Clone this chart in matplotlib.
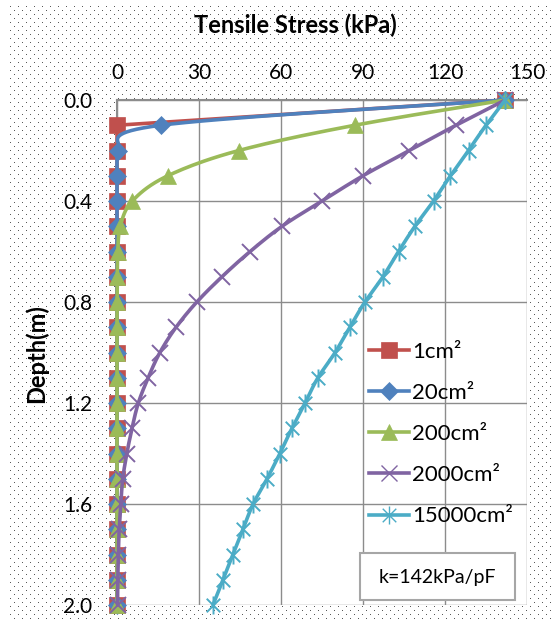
import matplotlib
matplotlib.use("Agg")
import matplotlib.pyplot as plt
from matplotlib.patches import Rectangle
from matplotlib.path import Path
import numpy as np

plt.rcParams['font.family'] = ['Lato', 'DejaVu Sans']

depth = [round(0.1 * i, 1) for i in range(21)]
s_1 = [142, 0, 0, 0, 0, 0, 0, 0, 0, 0, 0, 0, 0, 0, 0, 0, 0, 0, 0, 0, 0]
s_20 = [142, 16, 0.3, 0, 0, 0, 0, 0, 0, 0, 0, 0, 0, 0, 0, 0, 0, 0, 0, 0, 0]
s_200 = [142, 87, 44.6, 18.6, 5.6, 1.2, 0.3, 0.1, 0, 0, 0, 0, 0, 0, 0, 0, 0, 0, 0, 0, 0]
s_2000 = [142, 124, 107, 90, 75, 60.4, 48.7, 38.4, 29.2, 21.6, 15.7, 11.4, 7.8,
          5.5, 3.6, 2.1, 1.4, 0.8, 0.5, 0.3, 0.2]
s_15000 = [142, 135, 128.6, 122, 115.8, 109, 103, 97.3, 90.7, 85.2, 79.8, 73.5,
           68.8, 64, 59.6, 54.9, 49.8, 46.1, 42.4, 38.8, 35.1]
labels = ['1cm²', '20cm²', '200cm²', '2000cm²', '15000cm²']
x_ticks = [0, 30, 60, 90, 120, 150]
y_ticks = [0.0, 0.4, 0.8, 1.2, 1.6, 2.0]

colors = ['#C0504D', '#4F81BD', '#9BBB59', '#8064A2', '#4BACC6']

star = Path([(0, -1), (0, 1), (-0.75, -0.75), (0.75, 0.75), (-0.75, 0.75), (0.75, -0.75)],
            [Path.MOVETO, Path.LINETO, Path.MOVETO, Path.LINETO, Path.MOVETO, Path.LINETO])
markers = ['s', 'D', '^', 'x', star]
msizes = [11, 9, 11, 12, 13]
smoothed = [False, True, True, True, True]


def smooth(xs, ys, n=20):
    """Catmull-Rom Bezier smoothing (like Excel's smoothed line)."""
    P = np.column_stack([xs, ys]).astype(float)
    out = [P[0]]
    t = np.linspace(0, 1, n)[1:, None]
    for i in range(len(P) - 1):
        p0 = P[i - 1] if i > 0 else P[i]
        p1, p2 = P[i], P[i + 1]
        p3 = P[i + 2] if i + 2 < len(P) else P[i + 1]
        b1 = p1 + (p2 - p0) / 6
        b2 = p2 - (p3 - p1) / 6
        seg = ((1 - t) ** 3) * p1 + 3 * ((1 - t) ** 2) * t * b1 + 3 * (1 - t) * t ** 2 * b2 + t ** 3 * p2
        out.extend(seg)
    out = np.array(out)
    return np.maximum(out[:, 0], 0), out[:, 1]


W, H = 551, 620
fig = plt.figure(figsize=(W / 100, H / 100), dpi=100)
fig.patch.set_facecolor('white')

# dotted chart-area background
img = np.zeros((H, W, 4))
yy, xx = np.mgrid[0:H, 0:W]
row = (yy - 6) // 4
mask = ((yy - 6) % 4 == 0) & ((xx - 10 - 4 * (row % 2)) % 8 == 0) & (xx >= 10) & (yy >= 6)
img[mask] = [0.35, 0.35, 0.35, 1.0]
fig.figimage(img, 0, 0, zorder=-5)

left, right, top, bottom = 117, 527, 100, 605
ax = fig.add_axes([left / W, 1 - bottom / H, (right - left) / W, (bottom - top) / H])
ax.set_facecolor('white')

series = [s_1, s_20, s_200, s_2000, s_15000]
for vals, lab, c, m, ms, sm in zip(series, labels, colors, markers, msizes, smoothed):
    if sm:
        sx, sy = smooth(vals, depth)
    else:
        sx, sy = vals, depth
    ax.plot(sx, sy, color=c, lw=2.6, clip_on=False, zorder=3, solid_capstyle='round')
    thin = (m == 'x') or (m is star)
    ax.plot(vals, depth, linestyle='none', marker=m, markersize=ms,
            markeredgewidth=1.4 if thin else 0.5,
            markeredgecolor=c, markerfacecolor=c, clip_on=False, zorder=3)
    ax.plot([], [], color=c, lw=2.6, marker=m, markersize=ms,
            markeredgewidth=1.0 if thin else 0.5,
            markeredgecolor=c, markerfacecolor=c, label=lab)

ax.set_xlim(0, 150)
ax.set_ylim(2.0, 0.0)
ax.set_xticks(x_ticks)
ax.set_yticks(y_ticks)
ax.set_yticklabels([f'{v:.1f}' for v in y_ticks])
ax.xaxis.tick_top()
ax.tick_params(axis='both', length=0, labelsize=15, colors='black')
ax.tick_params(axis='x', pad=12)
ax.tick_params(axis='y', pad=18)
ax.grid(True, color='#8c8c8c', lw=1)
ax.set_axisbelow(True)
for s in ['right', 'bottom']:
    ax.spines[s].set_visible(False)
for s in ['left', 'top']:
    ax.spines[s].set_color('#8c8c8c')
    ax.spines[s].set_linewidth(1.5)

fig.text(295 / W, 1 - 25 / H, 'Tensile Stress (kPa)', fontsize=17, fontweight='bold',
         ha='center', va='center')
fig.text(36 / W, 1 - 354 / H, 'Depth(m)', fontsize=17, fontweight='bold',
         ha='center', va='center', rotation=90)

leg = ax.legend(loc='upper left',
                bbox_to_anchor=((360 - left) / (right - left), 1 - (333 - top) / (bottom - top)),
                frameon=False, fontsize=16, handlelength=1.8, labelspacing=0.95,
                handletextpad=0.15, borderaxespad=0)

ax.add_patch(Rectangle(((360 - left) / (right - left), 1 - (600 - top) / (bottom - top)),
                       155 / (right - left), 47 / (bottom - top), transform=ax.transAxes,
                       facecolor='white', edgecolor='#a6a6a6', lw=1.5, zorder=4))
ax.text((437 - left) / (right - left), 1 - (577 - top) / (bottom - top), 'k=142kPa/pF',
        transform=ax.transAxes, ha='center', va='center', fontsize=14, zorder=5)

fig.savefig('out.png', dpi=100)
